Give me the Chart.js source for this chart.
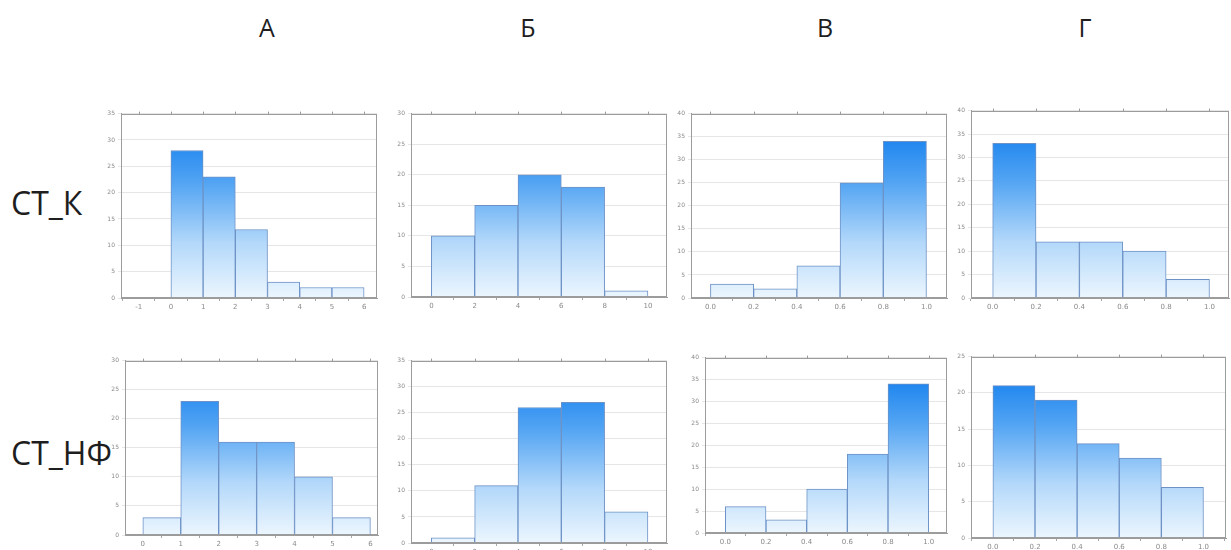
<!DOCTYPE html>
<html><head><meta charset="utf-8">
<script src="https://cdn.jsdelivr.net/npm/chart.js@4/dist/chart.umd.min.js"></script>
<style>
html,body{margin:0;padding:0;background:#fff;width:1231px;height:550px;overflow:hidden;position:relative;font-family:"Open Sans","Liberation Sans",sans-serif;}
.lbl{position:absolute;color:#1e1e1e;white-space:nowrap;line-height:1;}
.col{font-size:25px;top:15px;transform:translateX(-50%);}
.row{font-size:32px;left:11px;}
canvas{position:absolute;}
</style></head><body>
<div class="lbl col" style="left:267px">А</div>
<div class="lbl col" style="left:528px">Б</div>
<div class="lbl col" style="left:825px">В</div>
<div class="lbl col" style="left:1085px">Г</div>
<div class="lbl row" style="top:187px">СТ_К</div>
<div class="lbl row" style="top:437px">СТ_НФ</div>
<script>
// ---- data ----
const columns = ['А', 'Б', 'В', 'Г'];
const rows = ['СТ_К', 'СТ_НФ'];

const edgesA = [0, 1, 2, 3, 4, 5, 6];
const edgesB = [0, 2, 4, 6, 8, 10];
const edgesV = [0, 0.2, 0.4, 0.6, 0.8, 1.0];
const edgesG = [0, 0.2, 0.4, 0.6, 0.8, 1.0];

const countsA_K = [28, 23, 13, 3, 2, 2];
const countsB_K = [10, 15, 20, 18, 1];
const countsV_K = [3, 2, 7, 25, 34];
const countsG_K = [33, 12, 12, 10, 4];

const countsA_NF = [3, 23, 16, 16, 10, 3];
const countsB_NF = [1, 11, 26, 27, 6];
const countsV_NF = [6, 3, 10, 18, 34];
const countsG_NF = [21, 19, 13, 11, 7];

const xTicksA_K = [-1, 0, 1, 2, 3, 4, 5, 6];
const xLabelsA_K = ['-1', '0', '1', '2', '3', '4', '5', '6'];
const xTicksA_NF = [0, 1, 2, 3, 4, 5, 6];
const xLabelsA_NF = ['0', '1', '2', '3', '4', '5', '6'];
const xTicksB = [0, 2, 4, 6, 8, 10];
const xLabelsB = ['0', '2', '4', '6', '8', '10'];
const xTicksFrac = [0, 0.2, 0.4, 0.6, 0.8, 1.0];
const xLabelsFrac = ['0.0', '0.2', '0.4', '0.6', '0.8', '1.0'];

const yMaxK = [35, 30, 40, 40];
const yMaxNF = [30, 35, 40, 25];
const yStep = 5;

// ---- layout (positions only) ----
const panels = [
  {rect: [121, 111, 377, 298], xr: [-1.55, 6.4],  edges: edgesA, counts: countsA_K,  ticks: xTicksA_K,  labels: xLabelsA_K,  yMax: yMaxK[0]},
  {rect: [411, 111, 667, 297], xr: [-0.94, 10.88], edges: edgesB, counts: countsB_K,  ticks: xTicksB,    labels: xLabelsB,    yMax: yMaxK[1]},
  {rect: [691, 111, 947, 298], xr: [-0.09, 1.095], edges: edgesV, counts: countsV_K,  ticks: xTicksFrac, labels: xLabelsFrac, yMax: yMaxK[2]},
  {rect: [971, 108, 1229, 298], xr: [-0.1, 1.09],  edges: edgesG, counts: countsG_K,  ticks: xTicksFrac, labels: xLabelsFrac, yMax: yMaxK[3]},
  {rect: [125, 358, 378, 535], xr: [-0.47, 6.2],  edges: edgesA, counts: countsA_NF, ticks: xTicksA_NF, labels: xLabelsA_NF, yMax: yMaxNF[0]},
  {rect: [411, 358, 667, 543], xr: [-0.94, 10.88], edges: edgesB, counts: countsB_NF, ticks: xTicksB,    labels: xLabelsB,    yMax: yMaxNF[1]},
  {rect: [705, 355, 947, 533], xr: [-0.1, 1.09],  edges: edgesV, counts: countsV_NF, ticks: xTicksFrac, labels: xLabelsFrac, yMax: yMaxNF[2]},
  {rect: [971, 354, 1226, 538], xr: [-0.104, 1.107], edges: edgesG, counts: countsG_NF, ticks: xTicksFrac, labels: xLabelsFrac, yMax: yMaxNF[3]}
];

const framePlugin = {
  id: 'frame',
  afterDraw(chart) {
    const {ctx, chartArea: ca, scales} = chart;
    ctx.save();
    ctx.strokeStyle = '#9c9c9c';
    ctx.lineWidth = 1;
    ctx.strokeRect(Math.round(ca.left) + 0.5, Math.round(ca.top) + 0.5,
                   Math.round(ca.right - ca.left) - 1, Math.round(ca.bottom - ca.top) - 1);
    ctx.beginPath();
    scales.x.ticks.forEach((t, i) => {
      const x = Math.round(scales.x.getPixelForTick(i)) + 0.5;
      ctx.moveTo(x, ca.top - 2);
      ctx.lineTo(x, ca.top + 1);
    });
    ctx.stroke();
    ctx.restore();
  }
};

function makeGradient(chart) {
  const ca = chart.chartArea;
  if (!ca) return '#7fbaf5';
  const g = chart.ctx.createLinearGradient(0, ca.bottom, 0, ca.top);
  g.addColorStop(0, '#ecf6fe');
  g.addColorStop(0.3, '#b3d8fa');
  g.addColorStop(0.62, '#54a5f3');
  g.addColorStop(0.85, '#2187ef');
  g.addColorStop(1, '#127cee');
  return g;
}

panels.forEach(p => {
  const [L, T, R, B] = p.rect;
  const padL = 24, padT = 4, padR = 4, padB = 16;
  const cv = document.createElement('canvas');
  const W = (R - L) + padL + padR, H = (B - T) + padT + padB;
  cv.width = W; cv.height = H;
  cv.style.left = (L - padL) + 'px';
  cv.style.top = (T - padT) + 'px';
  cv.style.width = W + 'px'; cv.style.height = H + 'px';
  document.body.appendChild(cv);
  const data = p.counts.map((c, i) => ({x: (p.edges[i] + p.edges[i + 1]) / 2, y: c}));
  new Chart(cv, {
    type: 'bar',
    data: {datasets: [{
      data,
      backgroundColor: ctx => makeGradient(ctx.chart),
      borderColor: '#6d92c6',
      borderWidth: 1,
      barPercentage: 1,
      categoryPercentage: 1
    }]},
    options: {
      responsive: false, animation: false, maintainAspectRatio: false,
      devicePixelRatio: 1,
      layout: {padding: {left: 0, top: padT, right: padR, bottom: 0}},
      plugins: {legend: {display: false}, tooltip: {enabled: false}},
      scales: {
        x: {
          type: 'linear', min: p.xr[0], max: p.xr[1], offset: false,
          afterBuildTicks: s => { s.ticks = p.ticks.map(v => ({value: v})); },
          afterFit: s => { s.height = padB; },
          ticks: {autoSkip: false, maxRotation: 0, padding: 2, color: '#8a8a8a',
                  font: {size: 7, family: 'DejaVu Sans'},
                  callback: (v, i) => p.labels[i]},
          grid: {display: true, drawOnChartArea: false, tickLength: 3, color: '#a8a8a8'},
          border: {color: '#9c9c9c'}
        },
        y: {
          min: 0, max: p.yMax,
          afterFit: s => { s.width = padL; },
          ticks: {stepSize: yStep, padding: 3, color: '#8a8a8a', font: {size: 6, family: 'DejaVu Sans'}},
          grid: {color: '#e6e6e6', tickLength: 3},
          border: {color: '#9c9c9c'}
        }
      }
    },
    plugins: [framePlugin]
  });
});
</script>
</body></html>
